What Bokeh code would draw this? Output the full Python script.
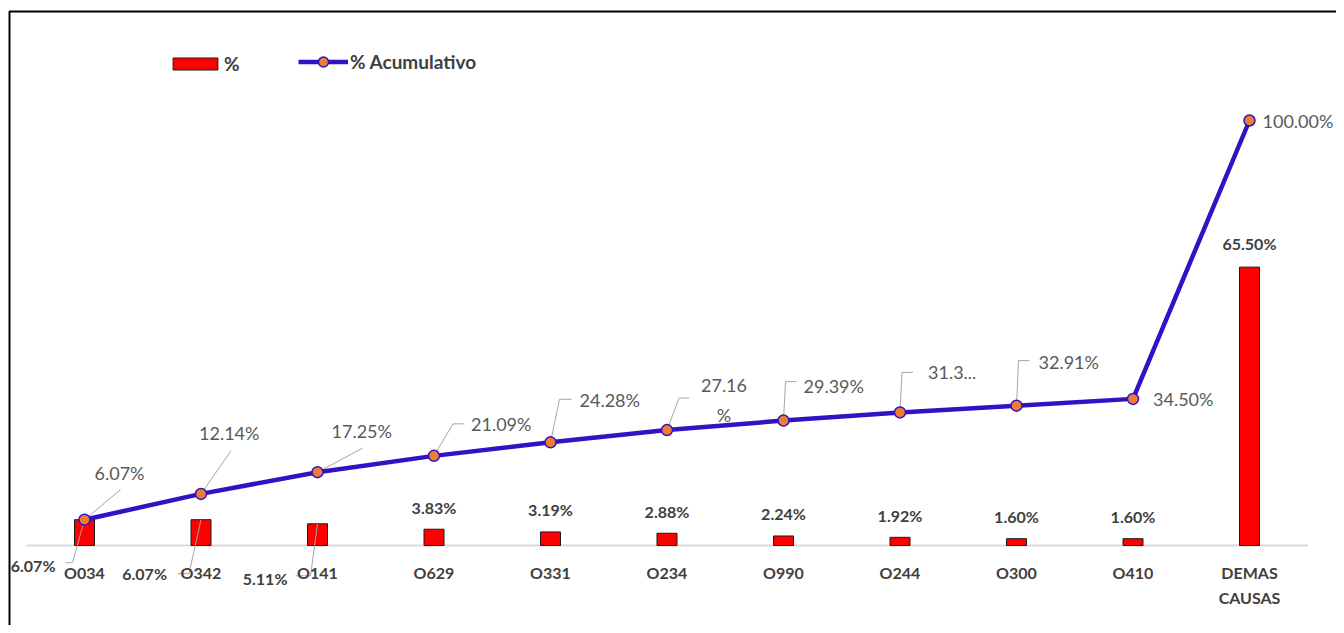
from bokeh.plotting import figure
from bokeh.models import ColumnDataSource, Range1d, Legend, LegendItem
from bokeh.core.properties import value
from bokeh.embed import file_html
from bokeh.resources import INLINE

# ---------------- data ----------------
categories = ["O034", "O342", "O141", "O629", "O331", "O234", "O990", "O244",
              "O300", "O410", "DEMAS\nCAUSAS"]
pct = [6.07, 6.07, 5.11, 3.83, 3.19, 2.88, 2.24, 1.92, 1.60, 1.60, 65.50]
cum = [6.07, 12.14, 17.25, 21.09, 24.28, 27.16, 29.39, 31.31, 32.91, 34.50, 100.00]
pct_labels = ["6.07%", "6.07%", "5.11%", "3.83%", "3.19%", "2.88%", "2.24%",
              "1.92%", "1.60%", "1.60%", "65.50%"]
cum_labels = ["6.07%", "12.14%", "17.25%", "21.09%", "24.28%", "27.16\n%",
              "29.39%", "31.3...", "32.91%", "34.50%", "100.00%"]

# ---------------- layout / style ----------------
W, H = 1336, 625
X0_PX, XPX = 84, 116.5      # canvas px of first category, px per category
Y0_PX, YPX = 545, 4.25      # canvas px of 0 %, px per 1 %
X_START = -X0_PX / XPX
X_END = X_START + W / XPX
Y_END = Y0_PX / YPX
Y_START = Y_END - H / YPX

FONT = "Lato"
BLUE = "#3311C4"
ORANGE = "#ED7D31"
LEAD = "#A6A6A6"

# label offsets in pixels (dx right, dy down) from the data point
cum_off = [(10, -47, "left"), (-2, -61, "left"), (14, -41, "left"), (37, -32, "left"),
           (29, -42, "left"), (57, -30, "center"), (20, -35, "left"), (28, -40, "left"),
           (22, -44, "left"), (20, 0, "left"), (13, 0, "left")]
cum_lead = [[(0, 0), (36, -30)], [(0, 0), (30, -43)], [(0, 0), (45, -24)],
            [(0, 0), (19, -32), (30, -32)], [(0, 0), (9, -43), (21, -43)],
            [(0, 0), (12, -32), (22, -32)], [(0, 0), (2, -39), (13, -39)],
            [(0, 0), (2, -40), (13, -40)], [(0, 0), (2, -45), (13, -45)], None, None]
bar_off = [(-29, 46, "right"), (-34, 54, "right"), (-30, 55, "right")] + \
          [(0, -22, "center")] * 7 + [(0, -24, "center")]
bar_lead = [[(0, 0), (-12, 43), (-19, 43)], [(0, 0), (-12, 54), (-23, 54)],
            [(0, 0), (-7, 52), (-22, 52)]] + [None] * 8
CAT_DY = 27          # px below baseline for category labels
CAT_LINE = 25        # px between lines of a category label

xs = list(range(len(categories)))


def dx(px):
    return px / XPX


def dy(py):
    return -py / YPX


def cx(px):  # canvas x px -> data x
    return X_START + px / XPX


def cy(py):  # canvas y px -> data y
    return Y_END - py / YPX


p = figure(width=W, height=H, x_range=Range1d(X_START, X_END),
           y_range=Range1d(Y_START, Y_END), output_backend="svg", toolbar_location=None,
           x_axis_location=None, y_axis_location=None, min_border=0)
p.outline_line_color = None
p.grid.visible = False
p.background_fill_color = "white"
p.border_fill_color = "white"

# chart border (left and top edges visible)
p.line(x=[cx(9), cx(9), cx(W + 10)], y=[cy(H + 10), cy(11), cy(11)],
       line_color="#000000", line_width=2)

# category axis line
p.segment(x0=[-0.5], y0=[0], x1=[len(categories) - 0.5], y1=[0],
          line_color="#D9D9D9", line_width=2)

# bars
bars = p.vbar(x=xs, top=pct, width=dx(20), fill_color="#FF0000",
              line_color="#1A1A1A", line_width=1)

# leader lines
lx, ly = [], []
for i in xs:
    if cum_lead[i]:
        lx.append([i + dx(a) for a, b in cum_lead[i]])
        ly.append([cum[i] + dy(b) for a, b in cum_lead[i]])
    if bar_lead[i]:
        lx.append([i + dx(a) for a, b in bar_lead[i]])
        ly.append([pct[i] + dy(b) for a, b in bar_lead[i]])
p.multi_line(xs=lx, ys=ly, line_color=LEAD, line_width=1)

# cumulative line
line = p.line(xs, cum, line_color=BLUE, line_width=4.5)
marks = p.scatter(xs, cum, size=11, fill_color=ORANGE, line_color=BLUE, line_width=1.5)

# category labels
ksrc = ColumnDataSource(dict(
    x=xs,
    y=[dy(CAT_DY + (c.count("\n")) * CAT_LINE / 2) for c in categories],
    t=categories))
p.text(x="x", y="y", text="t", source=ksrc, text_align="center", text_baseline="middle",
       text_font=value(FONT), text_font_size="16px", text_font_style="bold",
       text_color="#404040", text_line_height=CAT_LINE / (16 * 1.2))

# bar labels
bsrc = ColumnDataSource(dict(
    x=[i + dx(bar_off[i][0]) for i in xs],
    y=[pct[i] + dy(bar_off[i][1]) for i in xs],
    t=pct_labels,
    a=[bar_off[i][2] for i in xs]))
p.text(x="x", y="y", text="t", source=bsrc, text_align="a", text_baseline="middle",
       text_font=value(FONT), text_font_size="16px", text_font_style="bold",
       text_color="#404040")

# cumulative labels
csrc = ColumnDataSource(dict(
    x=[i + dx(cum_off[i][0]) for i in xs],
    y=[cum[i] + dy(cum_off[i][1]) for i in xs],
    t=cum_labels,
    a=[cum_off[i][2] for i in xs]))
p.text(x="x", y="y", text="t", source=csrc, text_align="a", text_baseline="middle",
       text_font=value(FONT), text_font_size="18px", text_color="#595959",
       text_line_height=30 / (18 * 1.2))

leg_style = dict(orientation="horizontal", padding=0, margin=0,
                 border_line_color=None, background_fill_alpha=0,
                 label_text_font=FONT, label_text_font_size="19px",
                 label_text_font_style="bold", label_text_color="#404040")
leg1 = Legend(items=[LegendItem(label="%", renderers=[bars])],
              location=(167, H - 75), glyph_width=56, glyph_height=15,
              label_standoff=1, **leg_style)
leg2 = Legend(items=[LegendItem(label="% Acumulativo", renderers=[line, marks])],
              location=(298, H - 74), glyph_width=50, glyph_height=25,
              label_standoff=2, **leg_style)
p.add_layout(leg1, "center")
p.add_layout(leg2, "center")

open("out.html", "w").write(file_html(p, INLINE))
